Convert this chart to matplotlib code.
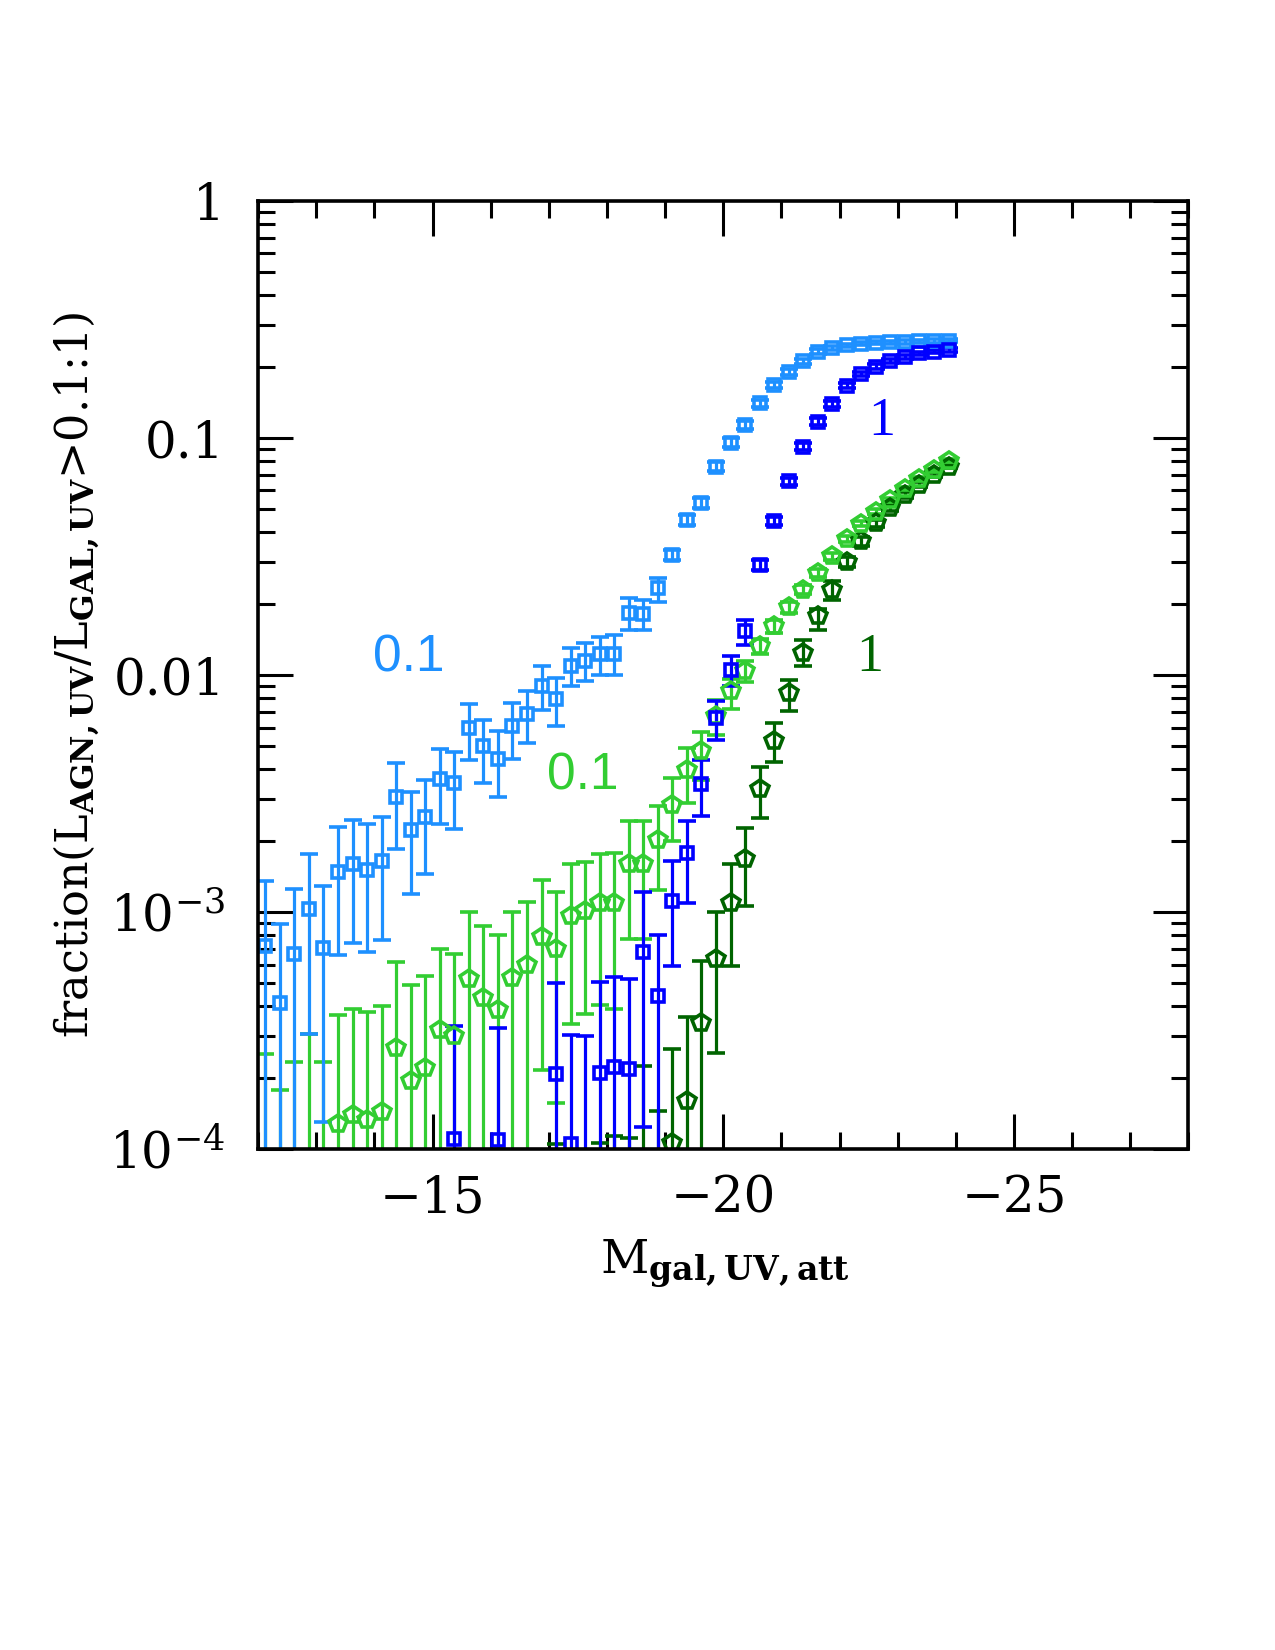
import numpy as np
import matplotlib
matplotlib.use('Agg')
import matplotlib.pyplot as plt
from matplotlib.ticker import FixedLocator, FixedFormatter, MultipleLocator

nan = np.nan

# bin centres in magnitude (0.25 mag bins)
mag = [-12.125, -12.375, -12.625, -12.875, -13.125, -13.375, -13.625, -13.875,
       -14.125, -14.375, -14.625, -14.875, -15.125, -15.375, -15.625, -15.875,
       -16.125, -16.375, -16.625, -16.875, -17.125, -17.375, -17.625, -17.875,
       -18.125, -18.375, -18.625, -18.875, -19.125, -19.375, -19.625, -19.875,
       -20.125, -20.375, -20.625, -20.875, -21.125, -21.375, -21.625, -21.875,
       -22.125, -22.375, -22.625, -22.875, -23.125, -23.375, -23.625, -23.875]

# ratio > 0.1, first sample (light blue squares)
lb_y = [7.18e-4, 4.12e-4, 6.62e-4, 1.03e-3, 7.08e-4, 1.47e-3, 1.59e-3, 1.51e-3, 1.64e-3, 3.05e-3,
        2.21e-3, 2.51e-3, 3.65e-3, 3.51e-3, 5.98e-3, 5.00e-3, 4.44e-3, 6.07e-3, 6.87e-3, 8.95e-3,
        7.93e-3, 1.09e-2, 1.14e-2, 1.22e-2, 1.22e-2, 1.82e-2, 1.81e-2, 2.33e-2, 3.21e-2, 4.51e-2,
        5.31e-2, 7.57e-2, 9.55e-2, 0.1135, 0.140, 0.167, 0.190, 0.210, 0.231, 0.239,
        0.246, 0.250, 0.252, 0.253, 0.254, 0.255, 0.256, 0.257]
lb_hi = [1.35e-3, 8.87e-4, 1.25e-3, 1.75e-3, 1.29e-3, 2.28e-3, 2.45e-3, 2.36e-3, 2.51e-3, 4.26e-3,
         3.21e-3, 3.62e-3, 4.89e-3, 4.73e-3, 7.57e-3, 6.44e-3, 5.78e-3, 7.62e-3, 8.53e-3, 1.09e-2,
         9.70e-3, 1.30e-2, 1.36e-2, 1.45e-2, 1.47e-2, 2.11e-2, 2.07e-2, 2.56e-2, 3.38e-2, 4.73e-2,
         5.56e-2, 7.90e-2, 9.95e-2, 0.118, 0.145, 0.172, 0.195, 0.215, 0.236, 0.244,
         0.250, 0.254, 0.256, 0.257, 0.258, 0.259, 0.260, 0.261]
lb_lo = [1e-6, 1e-6, 1e-6, 3.05e-4, 1.30e-4, 6.56e-4, 7.40e-4, 6.76e-4, 7.62e-4, 1.85e-3,
         1.19e-3, 1.45e-3, 2.36e-3, 2.24e-3, 4.37e-3, 3.51e-3, 3.05e-3, 4.40e-3, 5.16e-3, 7.14e-3,
         6.11e-3, 8.95e-3, 9.40e-3, 1.00e-2, 1.00e-2, 1.55e-2, 1.54e-2, 2.04e-2, 3.05e-2, 4.29e-2,
         5.07e-2, 7.25e-2, 9.17e-2, 0.109, 0.135, 0.162, 0.185, 0.205, 0.226, 0.234,
         0.242, 0.246, 0.248, 0.249, 0.250, 0.251, 0.252, 0.253]

# ratio > 1, first sample (blue squares)
b_y = [nan, nan, nan, nan, nan, nan, nan, nan, nan, nan,
       nan, nan, nan, 1.10e-4, nan, nan, 1.09e-4, nan, nan, nan,
       2.07e-4, 1.05e-4, 9.0e-5, 2.10e-4, 2.21e-4, 2.17e-4, 6.78e-4, 4.42e-4, 1.11e-3, 1.78e-3,
       3.45e-3, 6.59e-3, 1.05e-2, 1.53e-2, 2.92e-2, 4.44e-2, 6.55e-2, 9.19e-2, 0.117, 0.139,
       0.166, 0.186, 0.200, 0.211, 0.220, 0.227, 0.231, 0.235]
b_hi = [nan, nan, nan, nan, nan, nan, nan, nan, nan, nan,
        nan, nan, nan, 3.29e-4, nan, nan, 3.24e-4, nan, nan, nan,
        5.00e-4, 3.03e-4, 2.99e-4, 5.08e-4, 5.33e-4, 5.24e-4, 1.22e-3, 8.0e-4, 1.64e-3, 2.42e-3,
        4.37e-3, 7.74e-3, 1.20e-2, 1.71e-2, 3.05e-2, 4.62e-2, 6.80e-2, 9.50e-2, 0.121, 0.143,
        0.170, 0.190, 0.204, 0.215, 0.224, 0.231, 0.235, 0.239]
b_lo = [nan, nan, nan, nan, nan, nan, nan, nan, nan, nan,
        nan, nan, nan, 1e-6, nan, nan, 1e-6, nan, nan, nan,
        1e-6, 1e-6, 1e-6, 1e-6, 1e-6, 1e-6, 1.24e-4, 1e-6, 5.92e-4, 1.09e-3,
        2.55e-3, 5.33e-3, 8.95e-3, 1.34e-2, 2.78e-2, 4.27e-2, 6.30e-2, 8.90e-2, 0.113, 0.135,
        0.162, 0.182, 0.196, 0.207, 0.216, 0.223, 0.227, 0.231]

# ratio > 0.1, second sample (light green pentagons)
lg_y = [5e-5, 5e-5, 5e-5, 5e-5, 5e-5, 1.27e-4, 1.39e-4, 1.32e-4, 1.44e-4, 2.66e-4,
        1.93e-4, 2.19e-4, 3.17e-4, 3.00e-4, 5.20e-4, 4.35e-4, 3.85e-4, 5.28e-4, 6.00e-4, 7.87e-4,
        6.95e-4, 9.60e-4, 1.01e-3, 1.09e-3, 1.09e-3, 1.60e-3, 1.59e-3, 2.02e-3, 2.84e-3, 3.99e-3,
        4.77e-3, 6.68e-3, 8.53e-3, 1.04e-2, 1.32e-2, 1.61e-2, 1.93e-2, 2.29e-2, 2.70e-2, 3.16e-2,
        3.74e-2, 4.35e-2, 4.89e-2, 5.48e-2, 6.10e-2, 6.70e-2, 7.30e-2, 8.00e-2]
lg_hi = [2.51e-4, 1.78e-4, 2.34e-4, 3.05e-4, 2.32e-4, 3.67e-4, 3.88e-4, 3.80e-4, 4.01e-4, 6.15e-4,
         4.91e-4, 5.37e-4, 6.95e-4, 6.68e-4, 1.00e-3, 8.73e-4, 7.96e-4, 1.00e-3, 1.10e-3, 1.36e-3,
         1.22e-3, 1.59e-3, 1.63e-3, 1.75e-3, 1.78e-3, 2.42e-3, 2.42e-3, 2.79e-3, 3.68e-3, 4.92e-3,
         5.73e-3, 7.87e-3, 9.60e-3, 1.15e-2, 1.42e-2, 1.71e-2, 2.03e-2, 2.39e-2, 2.80e-2, 3.26e-2,
         3.84e-2, 4.45e-2, 4.99e-2, 5.58e-2, 6.20e-2, 6.82e-2, 7.42e-2, 8.12e-2]
lg_lo = [1e-6, 1e-6, 1e-6, 1e-6, 1e-6, 1e-6, 1e-6, 1e-6, 1e-6, 1e-6,
         1e-6, 1e-6, 1e-6, 1e-6, 1e-6, 1e-6, 1e-6, 1e-6, 1e-6, 2.16e-4,
         1.57e-4, 3.36e-4, 3.72e-4, 4.06e-4, 3.88e-4, 7.66e-4, 7.66e-4, 1.24e-3, 1.99e-3, 2.88e-3,
         3.62e-3, 5.60e-3, 7.20e-3, 9.30e-3, 1.22e-2, 1.51e-2, 1.83e-2, 2.19e-2, 2.60e-2, 3.06e-2,
         3.64e-2, 4.25e-2, 4.79e-2, 5.38e-2, 6.00e-2, 6.58e-2, 7.18e-2, 7.88e-2]

# ratio > 1, second sample (dark green pentagons)
dg_y = [nan, nan, nan, nan, nan, nan, nan, nan, nan, nan,
        nan, nan, nan, nan, nan, nan, nan, nan, nan, nan,
        5e-5, nan, nan, 5e-5, 5e-5, 5e-5, 5e-5, 5e-5, 1.06e-4, 1.60e-4,
        3.41e-4, 6.31e-4, 1.09e-3, 1.67e-3, 3.31e-3, 5.25e-3, 8.40e-3, 1.24e-2, 1.77e-2, 2.29e-2,
        3.00e-2, 3.66e-2, 4.37e-2, 5.06e-2, 5.75e-2, 6.34e-2, 6.98e-2, 7.57e-2]
dg_hi = [nan, nan, nan, nan, nan, nan, nan, nan, nan, nan,
         nan, nan, nan, nan, nan, nan, nan, nan, nan, nan,
         1.05e-4, nan, nan, 1.06e-4, 1.13e-4, 1.11e-4, 2.24e-4, 1.45e-4, 2.64e-4, 3.62e-4,
         6.21e-4, 1.00e-3, 1.59e-3, 2.26e-3, 4.09e-3, 6.28e-3, 9.55e-3, 1.40e-2, 1.90e-2, 2.50e-2,
         3.15e-2, 3.80e-2, 4.50e-2, 5.20e-2, 5.90e-2, 6.50e-2, 7.10e-2, 7.70e-2]
dg_lo = [nan, nan, nan, nan, nan, nan, nan, nan, nan, nan,
         nan, nan, nan, nan, nan, nan, nan, nan, nan, nan,
         1e-6, nan, nan, 1e-6, 1e-6, 1e-6, 1e-6, 1e-6, 1e-6, 1e-6,
         1e-6, 2.54e-4, 5.92e-4, 1.06e-3, 2.49e-3, 4.30e-3, 7.03e-3, 1.09e-2, 1.55e-2, 2.08e-2,
         2.85e-2, 3.50e-2, 4.20e-2, 4.90e-2, 5.60e-2, 6.20e-2, 6.85e-2, 7.45e-2]

ytick_vals = [1e-4, 1e-3, 1e-2, 1e-1, 1]
ytick_labels = [r'$10^{-4}$', r'$10^{-3}$', '0.01', '0.1', '1']

plt.rcParams['font.family'] = 'DejaVu Serif'
plt.rcParams['mathtext.fontset'] = 'dejavuserif'

fig = plt.figure(figsize=(12.75, 16.5), dpi=100)
ax = fig.add_axes([0.2024, 0.3036, 0.7297, 0.5747])


def draw(y, lo, hi, color, marker, ms):
    x = np.array(mag)
    y = np.array(y)
    lo = np.array(lo)
    hi = np.array(hi)
    ok = np.isfinite(y)
    ax.errorbar(x[ok], y[ok], yerr=[y[ok] - lo[ok], hi[ok] - y[ok]],
                fmt=marker, color=color, mfc='none', mec=color, ms=ms, mew=2.6,
                elinewidth=2.3, capsize=6.5, capthick=2.3, clip_on=True)


# plotting, back to front
draw(dg_y, dg_lo, dg_hi, '#006400', 'p', 13)
draw(lg_y, lg_lo, lg_hi, '#32CD32', 'p', 13)
draw(lb_y, lb_lo, lb_hi, '#1E90FF', 's', 9)
draw(b_y, b_lo, b_hi, '#0000FF', 's', 9)

ax.set_yscale('log')
ax.set_xlim(-12, -28)
ax.set_ylim(1e-4, 1)

ax.xaxis.set_major_locator(MultipleLocator(5))
ax.xaxis.set_minor_locator(MultipleLocator(1))
ax.yaxis.set_major_locator(FixedLocator(ytick_vals))
ax.yaxis.set_major_formatter(FixedFormatter(ytick_labels))

ax.tick_params(which='both', direction='in', top=True, right=True, width=2.2)
ax.tick_params(which='major', length=25, labelsize=36)
ax.tick_params(which='minor', length=12)
ax.tick_params(axis='x', which='major', pad=18)
ax.tick_params(axis='y', which='major', pad=24)
for sp in ax.spines.values():
    sp.set_linewidth(2.6)

ax.set_xlabel(r'M$_{\mathbf{gal,UV,att}}$', fontsize=34)
ax.xaxis.set_label_coords(0.502, -0.093)
ax.set_ylabel(r'fraction(L$_{\mathbf{AGN,UV}}$/L$_{\mathbf{GAL,UV}}$>0.1:1)', fontsize=32)
ax.yaxis.set_label_coords(-0.168, 0.5)

# labels for the thresholds
ax.text(-14.60, 0.01177, '0.1', color='#1E90FF', fontsize=37, family='Liberation Sans',
        ha='center', va='center')
ax.text(-17.59, 3.75e-3, '0.1', color='#32CD32', fontsize=37, family='Liberation Sans',
        ha='center', va='center')
ax.text(-22.72, 0.1173, '1', color='#0000FF', fontsize=39, family='Liberation Serif',
        ha='center', va='center')
ax.text(-22.52, 0.01177, '1', color='#006400', fontsize=39, family='Liberation Serif',
        ha='center', va='center')

fig.savefig('out.png', dpi=100)
